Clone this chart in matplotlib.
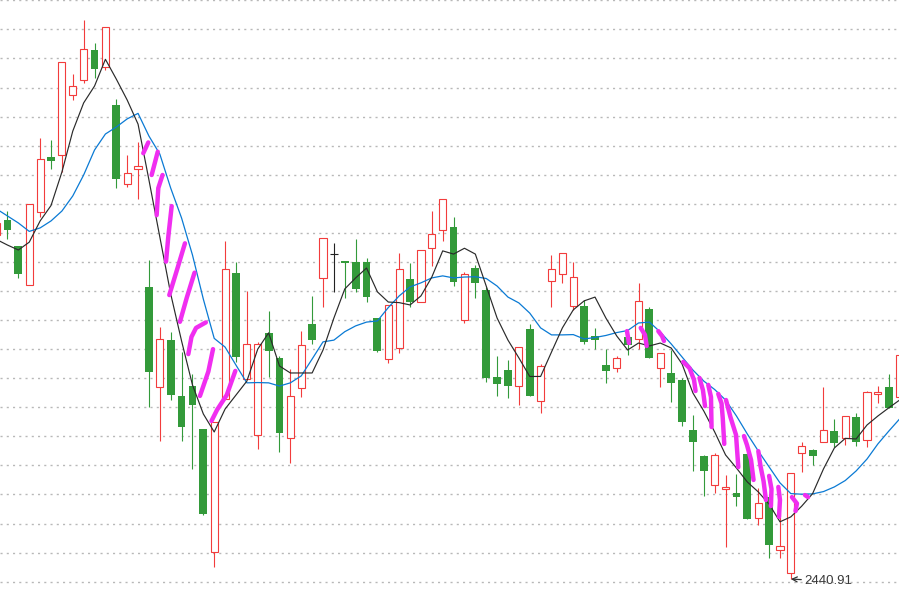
import numpy as np
import matplotlib
matplotlib.use('Agg')
import matplotlib.pyplot as plt

# daily candles (price units)
opens = [2559.3, 2564.4, 2555.5, 2541.9, 2567.3, 2586.1, 2586.7, 2607.3, 2612.5, 2622.9,
         2617.0, 2603.9, 2576.7, 2581.9, 2541.4, 2506.9, 2523.1, 2503.9, 2507.3, 2492.5,
         2450.1, 2502.7, 2546.1, 2509.7, 2490.4, 2525.6, 2517.0, 2489.3, 2506.5, 2528.5,
         2544.4, 2552.7, 2550.3, 2550.0, 2550.0, 2530.7, 2516.5, 2520.3, 2544.1, 2536.1,
         2554.7, 2560.9, 2562.0, 2530.0, 2547.9, 2540.4, 2510.4, 2512.8, 2507.4, 2527.0,
         2502.1, 2543.3, 2545.7, 2534.7, 2534.8, 2524.5, 2514.5, 2513.4, 2524.2, 2523.4,
         2533.7, 2513.4, 2511.7, 2509.4, 2492.1, 2483.2, 2473.3, 2471.8, 2470.4, 2483.9,
         2461.8, 2469.2, 2450.8, 2442.9, 2484.2, 2485.3, 2488.2, 2491.8, 2489.4, 2496.6,
         2488.6, 2504.5, 2507.0, 2503.6]
highs = [2564.1, 2567.5, 2555.5, 2569.9, 2592.6, 2591.9, 2618.8, 2614.6, 2633.2, 2625.3,
         2630.7, 2606.0, 2586.8, 2591.3, 2550.7, 2527.6, 2525.9, 2519.0, 2511.4, 2492.5,
         2495.1, 2557.2, 2549.9, 2540.0, 2522.6, 2533.1, 2517.6, 2513.2, 2526.2, 2538.3,
         2558.1, 2556.6, 2550.3, 2557.9, 2551.4, 2530.7, 2535.1, 2553.2, 2549.5, 2554.0,
         2567.5, 2571.5, 2565.6, 2546.5, 2548.9, 2541.3, 2517.6, 2516.3, 2520.7, 2528.6,
         2515.0, 2552.4, 2553.0, 2550.0, 2536.9, 2527.3, 2520.0, 2517.6, 2524.2, 2542.7,
         2534.4, 2518.8, 2519.7, 2510.0, 2497.2, 2483.6, 2484.4, 2476.7, 2477.0, 2484.6,
         2472.1, 2470.2, 2463.5, 2477.3, 2488.1, 2485.8, 2506.9, 2496.0, 2496.9, 2498.0,
         2505.7, 2507.3, 2511.4, 2517.9]
lows = [2558.6, 2557.8, 2544.3, 2541.9, 2565.6, 2582.0, 2581.1, 2605.8, 2611.7, 2613.4,
        2616.0, 2575.3, 2575.7, 2571.8, 2500.2, 2488.5, 2502.5, 2488.5, 2478.9, 2462.9,
        2444.9, 2502.7, 2515.6, 2509.7, 2485.8, 2510.5, 2484.7, 2481.0, 2503.6, 2521.8,
        2534.6, 2539.8, 2537.7, 2539.8, 2536.3, 2519.0, 2515.3, 2518.8, 2534.4, 2536.1,
        2548.6, 2557.3, 2541.8, 2529.1, 2537.5, 2508.8, 2504.0, 2503.3, 2500.9, 2504.0,
        2497.9, 2534.6, 2542.6, 2533.5, 2521.7, 2519.9, 2508.2, 2512.0, 2517.9, 2519.9,
        2517.1, 2507.1, 2501.9, 2493.7, 2478.2, 2469.6, 2470.4, 2451.8, 2466.1, 2461.7,
        2459.4, 2448.3, 2448.3, 2440.91, 2477.9, 2480.1, 2488.2, 2486.3, 2486.9, 2486.8,
        2486.4, 2501.6, 2499.8, 2503.6]
closes = [2563.4, 2561.0, 2545.8, 2569.9, 2585.3, 2584.8, 2618.8, 2610.4, 2623.1, 2616.2,
          2630.7, 2578.4, 2580.5, 2582.9, 2512.0, 2523.4, 2504.2, 2493.3, 2500.8, 2463.3,
          2495.1, 2547.5, 2517.4, 2521.7, 2521.7, 2519.5, 2491.3, 2503.8, 2521.3, 2523.2,
          2558.1, 2552.7, 2549.7, 2540.8, 2538.0, 2519.5, 2535.1, 2547.5, 2536.3, 2554.0,
          2559.6, 2571.5, 2543.2, 2545.7, 2542.9, 2510.0, 2508.1, 2507.4, 2520.7, 2504.0,
          2514.2, 2547.5, 2553.0, 2544.7, 2522.6, 2523.0, 2512.6, 2516.8, 2521.3, 2536.7,
          2517.1, 2518.8, 2508.5, 2495.0, 2488.2, 2478.2, 2483.5, 2472.5, 2469.2, 2461.7,
          2467.0, 2452.7, 2452.3, 2477.3, 2486.6, 2483.3, 2492.2, 2487.7, 2496.9, 2488.2,
          2505.2, 2505.2, 2499.8, 2517.9]

# moving average lines as drawn on the chart
ma_short = [2557.7, 2555.8, 2554.1, 2556.8, 2564.1, 2569.4, 2580.9, 2595.0, 2604.7, 2610.5,
            2619.7, 2612.9, 2605.7, 2597.4, 2578.2, 2558.6, 2539.0, 2522.8, 2507.7, 2497.7,
            2491.5, 2499.4, 2504.2, 2509.0, 2520.0, 2525.6, 2514.2, 2511.8, 2511.8, 2511.8,
            2519.7, 2530.7, 2540.7, 2544.5, 2547.9, 2539.7, 2536.2, 2536.0, 2535.2, 2538.3,
            2544.8, 2553.8, 2552.7, 2554.7, 2552.7, 2541.7, 2530.7, 2523.1, 2517.0, 2510.6,
            2510.6, 2519.0, 2527.3, 2533.5, 2536.6, 2537.9, 2530.7, 2524.5, 2519.7, 2522.1,
            2521.1, 2522.1, 2520.4, 2514.9, 2504.9, 2498.7, 2491.5, 2483.6, 2479.1, 2474.3,
            2470.9, 2466.7, 2460.6, 2462.3, 2466.0, 2470.3, 2478.8, 2486.0, 2489.3, 2489.1,
            2493.9, 2497.0, 2499.8, 2502.5]
ma_long = [2568.2, 2565.8, 2563.4, 2560.5, 2561.7, 2564.1, 2567.5, 2572.7, 2579.9, 2588.5,
           2594.0, 2596.4, 2599.2, 2601.1, 2593.3, 2587.1, 2575.4, 2565.1, 2552.4, 2537.2,
           2523.7, 2520.7, 2514.5, 2508.4, 2508.5, 2508.4, 2507.3, 2508.4, 2510.8, 2516.6,
           2522.5, 2523.1, 2526.0, 2528.0, 2529.3, 2529.7, 2534.3, 2538.3, 2541.4, 2542.8,
           2544.5, 2545.2, 2544.5, 2544.8, 2544.9, 2544.3, 2541.7, 2537.9, 2535.9, 2532.4,
           2527.3, 2524.9, 2524.9, 2525.0, 2523.5, 2524.0, 2524.7, 2525.7, 2526.4, 2529.0,
           2529.3, 2525.9, 2521.8, 2517.3, 2512.8, 2509.0, 2506.1, 2502.5, 2497.0, 2490.8,
           2485.0, 2479.5, 2474.0, 2470.3, 2470.1, 2470.2, 2471.0, 2472.6, 2474.8, 2478.1,
           2482.2, 2487.4, 2491.8, 2496.0]

# hand-drawn magenta marks: (candle position, price) per stroke
strokes_x = [[13.48, 13.94], [14.25, 14.81], [14.71, 14.86, 15.25], [15.57, 15.78, 16.09],
             [15.87, 16.63, 17.31], [16.85, 17.47, 18.19], [17.62, 17.91, 18.33, 19.23],
             [18.69, 19.46, 19.89], [19.75, 20.26, 21.15, 21.94],
             [57.94, 58.12], [59.20, 59.59, 59.75], [60.82, 61.16, 61.34],
             [63.11, 63.68, 64.10, 64.24], [64.60, 64.92, 65.11], [65.41, 65.66, 65.71],
             [66.33, 66.63, 66.74, 66.88], [67.04, 67.45, 67.96, 68.17],
             [68.69, 68.97, 69.34, 69.57], [70.01, 70.21, 70.49, 70.71],
             [71.00, 71.22, 71.17], [71.85, 72.00, 71.91], [73.10, 73.56, 73.43],
             [74.30, 74.58]]
strokes_y = [[2587.4, 2591.1], [2579.9, 2587.9], [2566.1, 2575.4, 2579.9], [2550.1, 2558.7, 2569.2],
             [2538.6, 2547.9, 2556.4], [2529.4, 2537.6, 2546.3], [2518.3, 2524.2, 2527.3, 2529.2],
             [2503.9, 2512.3, 2520.0], [2495.3, 2499.1, 2504.2, 2512.5],
             [2526.2, 2522.1], [2527.3, 2524.9, 2521.1], [2526.2, 2524.5, 2522.8],
             [2515.6, 2513.5, 2509.4, 2505.6], [2510.1, 2505.9, 2500.4], [2507.7, 2503.5, 2493.2],
             [2504.6, 2501.3, 2496.3, 2487.4], [2502.5, 2496.6, 2490.5, 2479.4],
             [2490.1, 2487.0, 2481.9, 2475.0], [2484.9, 2479.8, 2474.6, 2468.1],
             [2476.4, 2471.9, 2466.0], [2472.6, 2468.1, 2462.3], [2469.1, 2466.9, 2464.3],
             [2469.8, 2469.1]]

low_label = '2440.91'
grid_levels = np.arange(2440, 2641, 10)

RED = '#f23c3c'
GREEN = '#339a3a'

plt.rcParams['lines.scale_dashes'] = False

fig = plt.figure(figsize=(8.99, 5.98), dpi=100)
ax = fig.add_axes([0, 0, 1, 1])

o = np.array(opens)
h = np.array(highs)
l = np.array(lows)
c = np.array(closes)
x = np.arange(len(o))
up = c > o
down = c < o
flat = c == o

# up candles: hollow red
ax.vlines(x[up], l[up], h[up], color=RED, lw=0.8, zorder=2)
ax.bar(x[up], c[up] - o[up], bottom=o[up], width=0.66, facecolor='white',
       edgecolor=RED, linewidth=0.8, zorder=3)
# down candles: filled green
ax.vlines(x[down], l[down], h[down], color=GREEN, lw=0.8, zorder=2)
ax.bar(x[down], o[down] - c[down], bottom=c[down], width=0.72, color=GREEN,
       linewidth=0, zorder=3)
# doji
ax.vlines(x[flat], l[flat], h[flat], color='#222222', lw=0.8, zorder=2)
ax.hlines(o[flat], x[flat] - 0.36, x[flat] + 0.36, color='#222222', lw=0.8, zorder=3)

ax.plot(x, ma_long, color='#0a7ad4', lw=0.9, zorder=4)
ax.plot(x, ma_short, color='#2a2a2a', lw=0.85, zorder=4)

for sx, sy in zip(strokes_x, strokes_y):
    ax.plot(sx, sy, color='#f02ef0', lw=3.2, solid_capstyle='round',
            solid_joinstyle='round', zorder=5)

ax.annotate(low_label, xy=(73, 2440.91), xytext=(10, -1.5), textcoords='offset points',
            ha='left', va='center', fontsize=9.5, color='#3a3a3a', family='Liberation Sans',
            arrowprops=dict(arrowstyle='->', color='#333333', lw=0.9,
                            shrinkA=0.5, shrinkB=0, mutation_scale=9),
            zorder=6)

ax.set_xlim(0.311, 82.94)
ax.set_ylim(2434.39, 2640.1)
ax.set_yticks(grid_levels)
ax.set_xticks([])
ax.grid(axis='y', color='#b8b8b8', lw=1.0, linestyle=(0, (1.5, 3.0)), zorder=0)
ax.tick_params(left=False, labelleft=False, bottom=False, labelbottom=False)
for s in ax.spines.values():
    s.set_visible(False)
ax.set_axisbelow(True)

fig.savefig('out.png', dpi=100, facecolor='white')
